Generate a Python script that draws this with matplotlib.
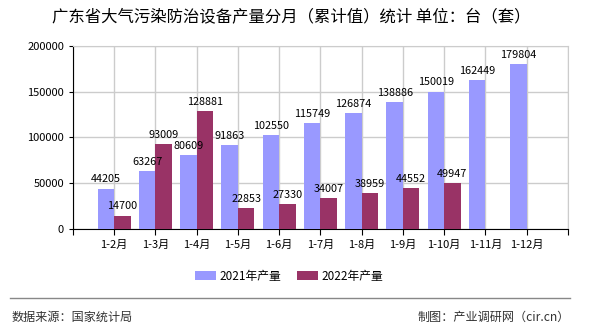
import matplotlib
matplotlib.use("Agg")
import matplotlib.pyplot as plt
import numpy as np

plt.rcParams['font.family'] = ['Noto Sans CJK SC', 'DejaVu Sans']

months = ["1-2月", "1-3月", "1-4月", "1-5月", "1-6月", "1-7月",
          "1-8月", "1-9月", "1-10月", "1-11月", "1-12月"]
prod_2021 = [44205, 63267, 80609, 91863, 102550, 115749,
             126874, 138886, 150019, 162449, 179804]
prod_2022 = [14700, 93009, 128881, 22853, 27330, 34007,
             38959, 44552, 49947]

c2021 = "#9999ff"
c2022 = "#993366"

fig = plt.figure(figsize=(5.9, 3.3), dpi=100)
ax = fig.add_axes([0.1237, 0.306, 0.839, 0.555])

x = np.arange(1, len(months) + 1)
w = 0.4
b1 = ax.bar(x - w / 2, prod_2021, w, color=c2021, label="2021年产量", zorder=3)
b2 = ax.bar(x[:len(prod_2022)] + w / 2, prod_2022, w, color=c2022,
            label="2022年产量", zorder=3)

for rect, v in zip(list(b1) + list(b2), prod_2021 + prod_2022):
    ax.annotate(str(v), (rect.get_x() + rect.get_width() / 2, v),
                xytext=(0, 3), textcoords="offset points",
                ha="center", va="bottom", fontsize=7.8, zorder=5)

ax.set_xlim(0, 12)
ax.set_ylim(0, 200000)
ax.set_yticks(range(0, 200001, 50000))
ax.set_xticks(range(0, 13))
ax.set_xticklabels([""] + months + [""])
ax.tick_params(axis="both", labelsize=8, length=3, color="black")
ax.tick_params(axis="x", length=4)
ax.grid(True, color="#cccccc", linewidth=1, zorder=0)
for side in ["top", "right"]:
    ax.spines[side].set_color("#cccccc")
for side in ["left", "bottom"]:
    ax.spines[side].set_color("black")

fig.text(0.494, 0.948, "广东省大气污染防治设备产量分月（累计值）统计 单位：台（套）",
         ha="center", va="center", fontsize=11.8, fontweight="medium")

fig.legend(handles=[b1, b2], loc="center", bbox_to_anchor=(0.49, 0.163),
           ncol=2, frameon=False, fontsize=8.5, handlelength=1.8,
           handleheight=0.8, columnspacing=1.35, handletextpad=0.3)

fig.add_artist(plt.Line2D([0.017, 0.966], [0.097, 0.097],
                          color="#888888", linewidth=1))
fig.text(0.02, 0.039, "数据来源：国家统计局", ha="left", va="center",
         fontsize=8.7, color="#333333")
fig.text(0.966, 0.039, "制图：产业调研网（cir.cn）", ha="right", va="center",
         fontsize=8.7, color="#333333")

fig.savefig("out.png", dpi=100)
